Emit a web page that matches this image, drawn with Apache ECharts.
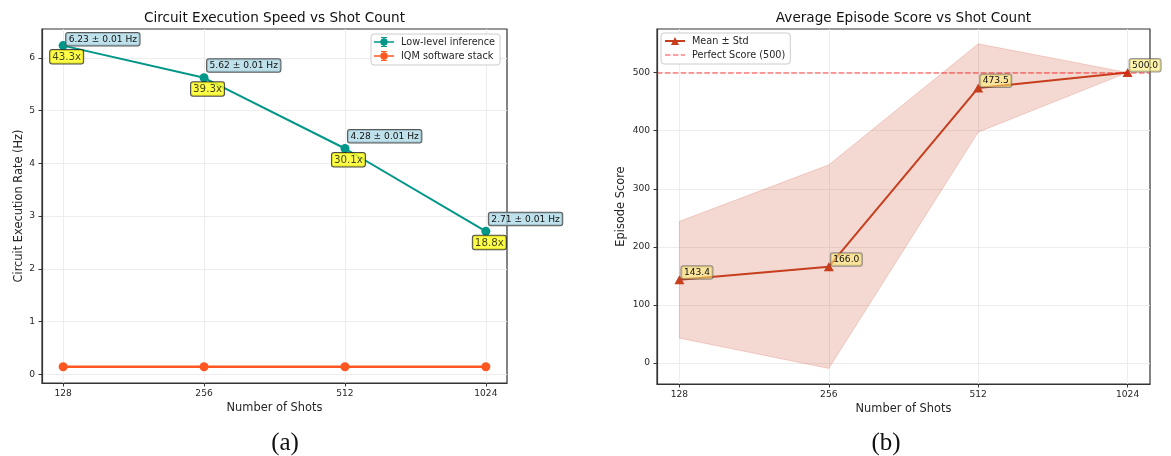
<!DOCTYPE html>
<html>
<head>
<meta charset="utf-8">
<script src="https://cdn.jsdelivr.net/npm/echarts@6.0.0/dist/echarts.min.js"></script>
<style>
  html, body { margin: 0; padding: 0; background: #ffffff; }
  #chart { width: 1171px; height: 456px; }
</style>
</head>
<body>
<div id="chart"></div>
<script>
// ---- data ----
const shotCounts = ['128', '256', '512', '1024'];

// (a) circuit execution rate in Hz
const lowLevelRate = [6.23, 5.62, 4.28, 2.71];
const lowLevelErr = [0.01, 0.01, 0.01, 0.01];
const iqmRate = [0.144, 0.143, 0.142, 0.144];
const speedup = [43.3, 39.3, 30.1, 18.8];
const rateTicks = [0, 1, 2, 3, 4, 5, 6];

// (b) episode score
const scoreMean = [143.4, 166.0, 473.5, 500.0];
const scoreStd = [100.5, 175.2, 76.0, 0.0];
const perfectScore = 500;
const scoreTicks = [0, 100, 200, 300, 400, 500];

// ---- styling ----
const FONT = 'DejaVu Sans';
const INK = '#262626';
const FRAME = '#333333';
const GRIDLINE = '#ebebeb';
const TEAL = '#009688';
const ORANGE = '#FF5722';
const RED = '#C73E1D';
const DASH_RED = 'rgba(255,0,0,0.5)';

const shotIdx = shotCounts.map((_, i) => i);

// legend glyph: line, round marker and a capped error bar (20 x 10 box)
const ERRBAR_ICON = 'path://M0,4.3H20V5.7H0Z' +
  'M9.4,0H10.6V10H9.4Z' +
  'M7,0H13V1.1H7Z M7,8.9H13V10H7Z' +
  'M6.3,5A3.7,3.7 0 1,1 13.7,5A3.7,3.7 0 1,1 6.3,5Z';

// legend glyph: dashed horizontal rule
const DASH_ICON = 'path://M0,4.3H5.5V5.7H0Z M7.9,4.3H13.4V5.7H7.9Z M15.8,4.3H20V5.7H15.8Z';

function xAxisFor(g) {
  return {
    type: 'value', gridIndex: g, min: -0.15, max: 3.15,
    name: 'Number of Shots', nameLocation: 'middle', nameGap: 20,
    nameTextStyle: { fontFamily: FONT, fontSize: 11.4, color: INK },
    axisLine: { show: true, onZero: false, lineStyle: { color: FRAME, width: 1.2 } },
    axisTick: { show: true, customValues: shotIdx, length: 3.5, lineStyle: { color: FRAME, width: 1 } },
    axisLabel: {
      customValues: shotIdx, margin: 6,
      formatter: v => shotCounts[Math.round(v)],
      fontFamily: FONT, fontSize: 9.1, color: INK
    },
    splitLine: { show: true, lineStyle: { color: GRIDLINE, width: 0.9 } }
  };
}

function yAxisFor(g, name, min, max, ticks, gap) {
  return {
    type: 'value', gridIndex: g, min: min, max: max,
    name: name, nameLocation: 'middle', nameGap: gap,
    nameTextStyle: { fontFamily: FONT, fontSize: 11.4, color: INK },
    axisLine: { show: true, onZero: false, lineStyle: { color: FRAME, width: 1.2 } },
    axisTick: { show: true, customValues: ticks, length: 3.5, lineStyle: { color: FRAME, width: 1 } },
    axisLabel: {
      customValues: ticks, margin: 7,
      formatter: v => String(Math.round(v)),
      fontFamily: FONT, fontSize: 9.1, color: INK
    },
    splitLine: { show: true, lineStyle: { color: GRIDLINE, width: 0.9 } }
  };
}

const legendBase = {
  orient: 'vertical', itemWidth: 20, itemHeight: 10, itemGap: 4,
  padding: [3, 5, 4, 3], symbolKeepAspect: true,
  backgroundColor: 'rgba(255,255,255,0.85)', borderColor: '#cccccc', borderWidth: 1, borderRadius: 3,
  textStyle: { fontFamily: FONT, fontSize: 9.7, color: INK, lineHeight: 10, padding: [0, 0, 0, 2] },
  selectedMode: false
};

const chart = echarts.init(document.getElementById('chart'), null, { renderer: 'canvas' });

const option = {
  backgroundColor: '#ffffff',
  animation: false,
  grid: [
    { left: 42, top: 29, width: 465, height: 354, show: true, borderColor: FRAME, borderWidth: 1.2, backgroundColor: '#ffffff' },
    { left: 657, top: 29, width: 493, height: 355, show: true, borderColor: FRAME, borderWidth: 1.2, backgroundColor: '#ffffff' }
  ],
  xAxis: [xAxisFor(0), xAxisFor(1)],
  yAxis: [
    yAxisFor(0, 'Circuit Execution Rate (Hz)', -0.165, 6.545, rateTicks, 17),
    yAxisFor(1, 'Episode Score', -36, 575, scoreTicks, 30)
  ],
  legend: [
    Object.assign({}, legendBase, {
      left: 371, top: 34,
      data: [
        { name: 'Low-level inference', icon: ERRBAR_ICON },
        { name: 'IQM software stack', icon: ERRBAR_ICON }
      ]
    }),
    Object.assign({}, legendBase, {
      left: 661, top: 33,
      data: [
        { name: 'Mean ± Std' },
        { name: 'Perfect Score (500)', icon: DASH_ICON }
      ]
    })
  ],
  graphic: [
    {
      type: 'text', x: 274.5, y: 18, silent: true,
      style: { text: 'Circuit Execution Speed vs Shot Count', fontFamily: FONT, fontSize: 13.6, fill: '#111',
        align: 'center', verticalAlign: 'middle', textAlign: 'center', textVerticalAlign: 'middle' }
    },
    {
      type: 'text', x: 903.5, y: 18, silent: true,
      style: { text: 'Average Episode Score vs Shot Count', fontFamily: FONT, fontSize: 13.6, fill: '#111',
        align: 'center', verticalAlign: 'middle', textAlign: 'center', textVerticalAlign: 'middle' }
    },
    {
      type: 'text', x: 285, y: 443, silent: true,
      style: { text: '(a)', fontFamily: 'Liberation Serif', fontSize: 25, fill: '#111',
        align: 'center', verticalAlign: 'middle', textAlign: 'center', textVerticalAlign: 'middle' }
    },
    {
      type: 'text', x: 886, y: 443, silent: true,
      style: { text: '(b)', fontFamily: 'Liberation Serif', fontSize: 25, fill: '#111',
        align: 'center', verticalAlign: 'middle', textAlign: 'center', textVerticalAlign: 'middle' }
    }
  ],
  series: [
    // ---- (a) ----
    {
      name: 'Low-level inference', type: 'line', xAxisIndex: 0, yAxisIndex: 0, z: 3,
      data: lowLevelRate.map((v, i) => ({ value: [i, v], label: { offset: [3, i === 0 ? 0 : -6] } })),
      symbol: 'circle', symbolSize: 9, showAllSymbol: true,
      itemStyle: { color: TEAL }, lineStyle: { color: TEAL, width: 2 },
      label: {
        show: true, position: ['50%', '50%'], align: 'left', verticalAlign: 'bottom',
        formatter: p => lowLevelRate[p.dataIndex].toFixed(2) + ' ± ' + lowLevelErr[p.dataIndex].toFixed(2) + ' Hz',
        fontFamily: FONT, fontSize: 9.1, color: '#111',
        backgroundColor: 'rgba(173,216,230,0.78)', borderColor: '#5a5a5a', borderWidth: 1, borderRadius: 2,
        padding: [2, 2.5, 1.5, 2.5]
      },
      emphasis: { disabled: true }
    },
    {
      name: 'IQM software stack', type: 'line', xAxisIndex: 0, yAxisIndex: 0, z: 3,
      data: iqmRate.map((v, i) => [i, v]),
      symbol: 'circle', symbolSize: 9, showAllSymbol: true,
      itemStyle: { color: ORANGE }, lineStyle: { color: ORANGE, width: 2.5 },
      emphasis: { disabled: true }
    },
    {
      name: 'speedup', type: 'scatter', xAxisIndex: 0, yAxisIndex: 0, z: 5, silent: true,
      data: lowLevelRate.map((v, i) => [i, v]),
      symbol: 'circle', symbolSize: 0.5, itemStyle: { color: 'rgba(0,0,0,0)' },
      label: {
        show: true, position: ['50%', '50%'], offset: [3.5, 4.5], align: 'center', verticalAlign: 'top',
        formatter: p => speedup[p.dataIndex].toFixed(1) + 'x',
        fontFamily: FONT, fontSize: 10.3, color: '#111',
        backgroundColor: '#ffff1a', borderColor: '#222222', borderWidth: 1, borderRadius: 2,
        padding: [2, 2, 1.5, 2]
      },
      emphasis: { disabled: true }
    },
    // ---- (b) ----
    {
      name: 'band', type: 'custom', xAxisIndex: 1, yAxisIndex: 1, z: 1, silent: true,
      data: [[0, scoreMean[0]]],
      renderItem: function (params, api) {
        const upper = [], lower = [];
        for (let i = 0; i < scoreMean.length; i++) {
          upper.push(api.coord([i, scoreMean[i] + scoreStd[i]]));
          lower.push(api.coord([i, scoreMean[i] - scoreStd[i]]));
        }
        return {
          type: 'polygon',
          shape: { points: upper.concat(lower.reverse()) },
          style: { fill: 'rgba(199,62,29,0.2)', stroke: 'rgba(199,62,29,0.18)', lineWidth: 1 }
        };
      }
    },
    {
      name: 'Perfect Score (500)', type: 'line', xAxisIndex: 1, yAxisIndex: 1, z: 2,
      data: [], symbol: 'none',
      itemStyle: { color: DASH_RED },
      lineStyle: { color: DASH_RED, width: 1.5, type: [5.5, 2.4] },
      markLine: {
        silent: true, symbol: ['none', 'none'], label: { show: false },
        lineStyle: { color: DASH_RED, width: 1.5, type: [5.5, 2.4] },
        emphasis: { disabled: true },
        data: [{ yAxis: perfectScore }]
      }
    },
    {
      name: 'Mean ± Std', type: 'line', xAxisIndex: 1, yAxisIndex: 1, z: 4,
      data: scoreMean.map((v, i) => [i, v]),
      symbol: 'triangle', symbolSize: [10, 9], showAllSymbol: true,
      itemStyle: { color: RED }, lineStyle: { color: RED, width: 2 },
      label: {
        show: true, position: ['50%', '50%'], offset: [2, -1], align: 'left', verticalAlign: 'bottom',
        formatter: p => scoreMean[p.dataIndex].toFixed(1),
        fontFamily: FONT, fontSize: 9.1, color: '#111',
        backgroundColor: 'rgba(255,236,110,0.55)', borderColor: 'rgba(90,90,90,0.6)', borderWidth: 1, borderRadius: 2,
        padding: [2, 2.5, 1.5, 2.5]
      },
      emphasis: { disabled: true }
    }
  ]
};

chart.setOption(option);
</script>
</body>
</html>
